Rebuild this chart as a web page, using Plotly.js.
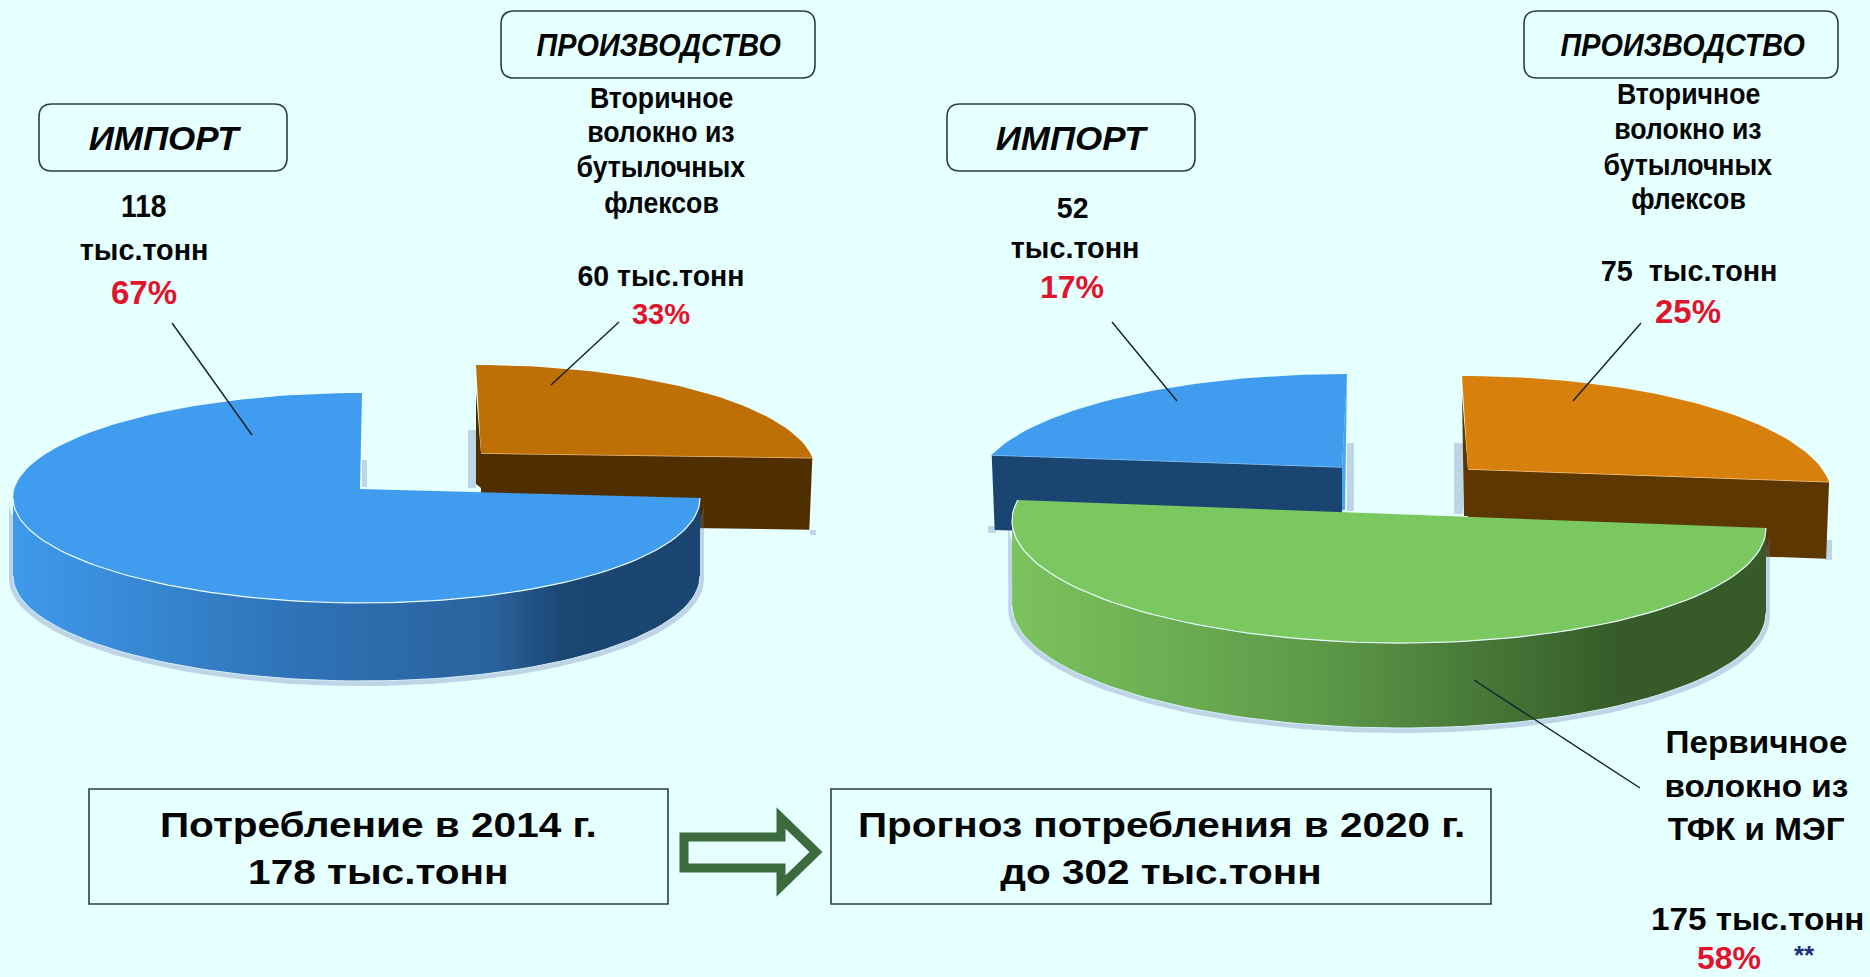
<!DOCTYPE html>
<html><head><meta charset="utf-8">
<script src="https://cdn.plot.ly/plotly-3.0.1.min.js"></script>
<style>html,body{margin:0;padding:0;background:#E6FFFF;overflow:hidden}#chart{width:1870px;height:977px}</style>
</head><body><div id="chart"></div>
<script>
// --- values ---
const categories = ['Вторичное волокно', 'Первичное волокно', 'Импорт'];
const tonnes2014 = [60, 118];
const percent2014 = [33, 67];
const drawnShare2014 = [25, 75];          // share of the circle each slice occupies as drawn
const tonnes2020 = [75, 175, 52];
const percent2020 = [25, 58, 17];
const drawnShare2020 = [25, 50, 25];      // share of the circle each slice occupies as drawn
const total2014 = 178;
const total2020 = 302;
const unit = 'тыс.тонн';

const BG = '#E6FFFF', RED = '#E0142C', INK = '#050505';
const FONT = '"Liberation Sans", Arial, sans-serif';
const blueSide = [[0,'#3F9AEB'],[0.4,'#2F73B8'],[0.7,'#2A629C'],[0.8,'#1B4673'],[1,'#1A4570']];
const greenSide = [[0,'#7BC35E'],[0.4,'#5E9A48'],[0.7,'#3F6C32'],[0.8,'#365B28'],[1,'#365B28']];

const traces = [];
function angles(shares, i) {
  let a = 0; for (let k = 0; k < i; k++) a += shares[k] * 3.6;
  return [a, a + shares[i] * 3.6];
}
// the perspective of the original: a slice follows only part of a larger ellipse (k differs from 1)
function pt(g, t) {
  const k = g.k === undefined ? 1 : g.k, tr = g.tr || 0;
  const r = (tr + (t - tr) * k) * Math.PI / 180, c = Math.cos(r);
  const x = g.cx + g.rx * Math.sin(r);
  return [x + (g.xw || 0) * c * c, g.cy - g.ry * c + (g.shear || 0) * (x - g.cx)];
}
function arc(g, a, b, dy) {
  const out = [], n = Math.max(2, Math.round(Math.abs(b - a) / 2));
  for (let i = 0; i <= n; i++) { const p = pt(g, a + (b - a) * i / n); out.push([p[0], p[1] + (dy || 0)]); }
  return out;
}
function poly(pts, color, extra) {
  traces.push(Object.assign({ x: pts.map(p => p[0]), y: pts.map(p => p[1]), mode: 'lines', fill: 'toself',
    fillcolor: color, line: { width: 0 }, hoverinfo: 'skip', showlegend: false }, extra || {}));
}
function stroke(pts, color, w) {
  traces.push({ x: pts.map(p => p[0]), y: pts.map(p => p[1]), mode: 'lines', line: { color: color, width: w },
    hoverinfo: 'skip', showlegend: false });
}
function slice(g, range, top, sideScale, cut) {
  const [a, b] = range, d = g.depth;
  const k = g.k === undefined ? 1 : g.k, tr = g.tr || 0;
  const fa = Math.max(a, 90), fb = Math.min(b, 270);
  if (fb > fa) {
    const fs = Math.min(fb, tr + (270 - tr) / k);   // the wall ends where the outline turns back
    const up = arc(g, fa, fs, 0), low = arc(g, fs, fa, d);
    const sh = Object.assign({}, g, { cy: g.cy + 3, rx: g.rx + 4, ry: g.ry + 2 });
    poly(arc(sh, fa, fs, 0).concat(arc(sh, fs, fa, d)), 'rgba(95,115,175,0.3)');
    poly(up.concat(low), sideScale[0][1], { fillgradient: { type: 'horizontal', colorscale: sideScale } });
    stroke(arc(g, fa, fs, d), '#D8F2FA', 1);
  }
  if (cut) {
    const tip = pt(g, cut.at), inset = tip[0] > g.ax ? -3 : 3;
    if (cut.wall) poly(cut.wall, cut.wallColor);
    poly([[g.ax, g.ay], tip, [tip[0] + inset, tip[1] + d], [g.ax, g.ay + d]], cut.color);
    stroke([[g.ax, g.ay], tip], cut.edge, 1.5);
  }
  poly([[g.ax, g.ay]].concat(arc(g, a, b, 0)).concat([[g.ax, g.ay]]), top);
  if (fb > fa) stroke(arc(g, fa, b > 270 ? fb : b, 0), '#EAFBFF', 1.2);
}

// --- 2014 pie ---
slice({ cx: 476, cy: 471, rx: 339, ry: 106, k: 0.92, ax: 481, ay: 453, depth: 72 }, angles(drawnShare2014, 0), '#BE7006', blueSide,
  { at: 90, color: '#4F2F00', edge: '#EDBE82', wall: [[476,392],[481,453],[481,488],[476,484]], wallColor: '#4F2F00' });
slice({ cx: 356.5, cy: 498, rx: 343.5, ry: 105, xw: 5.5, ax: 360, ay: 489, depth: 78 }, angles(drawnShare2014, 1), '#3F9CEE', blueSide);

// --- 2020 pie ---
slice({ cx: 1347, cy: 486.3, rx: 370, ry: 112.3, k: 0.82, tr: 360, ax: 1342, ay: 467, depth: 75 }, angles(drawnShare2020, 2), '#3F9CEE', blueSide,
  { at: 270, color: '#1A4570', edge: '#8CC4F4', wall: [[1347,374],[1345,510],[1342,510],[1342,467]], wallColor: '#4AA4F0' });
slice({ cx: 1462, cy: 497, rx: 370, ry: 121, k: 0.92, ax: 1468, ay: 469, depth: 77 }, angles(drawnShare2020, 0), '#D8800C', greenSide,
  { at: 90, color: '#5C3700', edge: '#F4C88E', wall: [[1462,395],[1468,469],[1468,516],[1464,516]], wallColor: '#5C3700' });
slice({ cx: 1389, cy: 524.3, rx: 377, ry: 118.7, shear: 0.0098, k: 1.0556, tr: 90, ax: 1392, ay: 514, depth: 85 }, angles(drawnShare2020, 1), '#7BC860', greenSide);

// --- leader lines ---
[[[172,323],[252,435]], [[619,322],[551,385]], [[1112,322],[1177,401]], [[1641,323],[1573,401]], [[1640,788],[1474,680]]]
  .forEach(l => stroke(l, '#14202A', 1.4));

// --- labels ---
const ann = [], stretch = [];
function label(x, y, text, size, opt) {
  opt = opt || {};
  stretch.push(opt.sx || 1);
  ann.push({ x: x, y: y, xref: 'x', yref: 'y', text: '<b>' + (opt.i ? '<i>' + text + '</i>' : text) + '</b>',
    showarrow: false, xanchor: 'center', yanchor: 'middle',
    font: { family: FONT, size: size, color: opt.color || INK } });
}
label(165, 138, 'ИМПОРТ', 33, { i: 1, sx: 1.06 });
label(658, 45, 'ПРОИЗВОДСТВО', 32, { i: 1, sx: 0.9 });
label(1072, 138, 'ИМПОРТ', 33, { i: 1, sx: 1.06 });
label(1682, 45, 'ПРОИЗВОДСТВО', 32, { i: 1, sx: 0.9 });

const secondary = ['Вторичное', 'волокно из', 'бутылочных', 'флексов'];
secondary.forEach((s, i) => label(661, [97,131,166,202][i], s, 30, { sx: 0.89 }));
secondary.forEach((s, i) => label(1688, [93,128,164,198][i], s, 30, { sx: 0.89 }));
label(144, 206, String(tonnes2014[1]), 32, { sx: 0.88 });
label(144, 249, unit, 30, { sx: 0.96 });
label(144, 292, percent2014[1] + '%', 33, { color: RED });
label(661, 275, tonnes2014[0] + ' ' + unit, 30, { sx: 0.95 });
label(661, 313, percent2014[0] + '%', 30, { color: RED, sx: 0.97 });
label(1072, 207, String(tonnes2020[2]), 30, { sx: 0.95 });
label(1075, 247, unit, 30, { sx: 0.96 });
label(1072, 287, percent2020[2] + '%', 32, { color: RED });
label(1689, 270, tonnes2020[0] + '&nbsp; ' + unit, 30, { sx: 0.96 });
label(1688, 311, percent2020[0] + '%', 33, { color: RED });
['Первичное', 'волокно из', 'ТФК и МЭГ'].forEach((s, i) => label(1756, [742,786,829][i], s, 32, { sx: 1.04 }));
label(1757, 919, tonnes2020[1] + ' ' + unit, 32, { sx: 1.04 });
label(1729, 958, percent2020[1] + '%', 32, { color: RED });
label(1804, 955, '**', 26, { color: '#1F2F7F' });
label(378, 824, 'Потребление в 2014 г.', 35, { sx: 1.16 });
label(378, 871, total2014 + ' ' + unit, 35, { sx: 1.16 });
label(1161, 824, 'Прогноз потребления в 2020 г.', 35, { sx: 1.157 });
label(1161, 871, 'до ' + total2020 + ' ' + unit, 35, { sx: 1.157 });

// --- frames, arrow, small drop shadows ---
function rounded(x0, y0, x1, y1, r) {
  return `M${x0 + r},${y0} L${x1 - r},${y0} Q${x1},${y0} ${x1},${y0 + r} L${x1},${y1 - r} Q${x1},${y1} ${x1 - r},${y1} L${x0 + r},${y1} Q${x0},${y1} ${x0},${y1 - r} L${x0},${y0 + r} Q${x0},${y0} ${x0 + r},${y0} Z`;
}
const frame = { color: '#2E3C42', width: 1.6 };
const shapes = [];
[[39,104,287,171],[501,11,815,78],[947,104,1195,171],[1524,11,1838,78]].forEach(b =>
  shapes.push({ type: 'path', path: rounded(b[0], b[1], b[2], b[3], 13), line: frame, fillcolor: 'rgba(0,0,0,0)', xref: 'x', yref: 'y' }));
[[89,789,668,904],[831,789,1491,904]].forEach(b =>
  shapes.push({ type: 'rect', x0: b[0], y0: b[1], x1: b[2], y1: b[3], line: frame, fillcolor: 'rgba(0,0,0,0)', xref: 'x', yref: 'y' }));
shapes.push({ type: 'path', xref: 'x', yref: 'y', fillcolor: BG, line: { color: '#3B6B3D', width: 9 },
  path: 'M684,837 L781,837 L781,818 L816,852 L781,886 L781,868 L684,868 Z' });
[[362,460,367,487],[468,430,476,488],[1347,443,1354,511],[1454,443,1463,514],[810,530,816,535],[988,526,996,533],[1825,540,1832,560]].forEach(b =>
  shapes.push({ type: 'rect', layer: 'below', x0: b[0], y0: b[1], x1: b[2], y1: b[3], line: { width: 0 }, fillcolor: 'rgba(95,115,175,0.3)', xref: 'x', yref: 'y' }));

const hidden = { visible: false, fixedrange: true, showgrid: false, zeroline: false };
Plotly.newPlot('chart', traces, {
  width: 1870, height: 977, margin: { l: 0, r: 0, t: 0, b: 0 }, autosize: false,
  paper_bgcolor: BG, plot_bgcolor: BG, showlegend: false,
  xaxis: Object.assign({ range: [0, 1870] }, hidden),
  yaxis: Object.assign({ range: [977, 0] }, hidden),
  annotations: ann, shapes: shapes
}, { displayModeBar: false, staticPlot: true }).then(() => {
  // the original lettering is stretched or squeezed sideways
  document.querySelectorAll('#chart g.annotation').forEach(g => {
    const sx = stretch[+g.getAttribute('data-index')], t = g.querySelector('text');
    if (!t || !sx || sx === 1) return;
    const b = t.getBBox(), c = b.x + b.width / 2, old = t.getAttribute('transform') || '';
    t.setAttribute('transform', `translate(${c} 0) scale(${sx} 1) translate(${-c} 0) ${old}`);
  });
});
</script></body></html>
